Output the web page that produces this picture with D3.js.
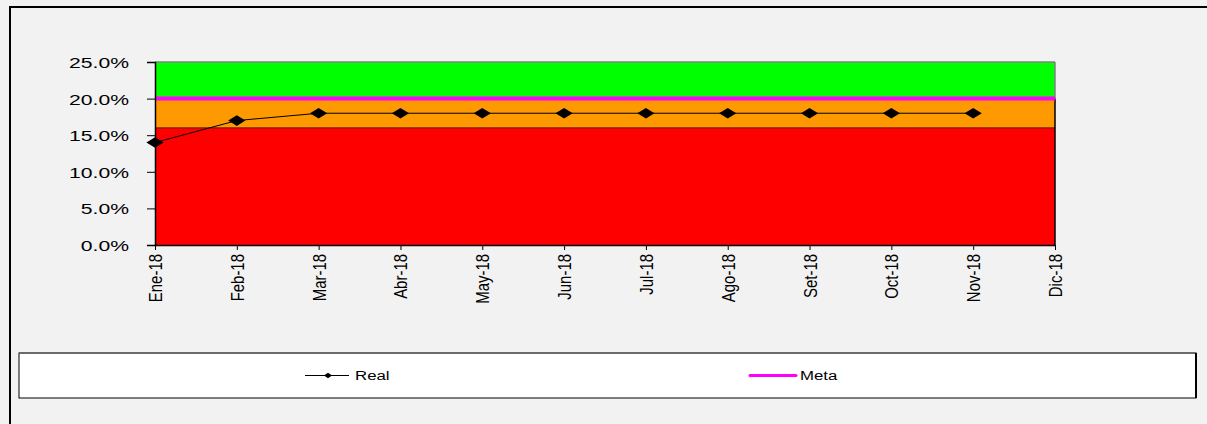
<!DOCTYPE html>
<html>
<head>
<meta charset="utf-8">
<script src="https://cdn.jsdelivr.net/npm/d3@7/dist/d3.min.js"></script>
<style>
  html, body { margin: 0; padding: 0; background: #f2f2f2; }
  svg { display: block; }
</style>
</head>
<body>
<svg id="chart" width="1207" height="424"></svg>
<script>
// Months on the x axis
const months = ["Ene-18","Feb-18","Mar-18","Abr-18","May-18","Jun-18","Jul-18","Ago-18","Set-18","Oct-18","Nov-18","Dic-18"];
// Measured values (fraction), January to November
const realValues = [0.14, 0.17, 0.18, 0.18, 0.18, 0.18, 0.18, 0.18, 0.18, 0.18, 0.18];
// Target line
const metaValue = 0.20;
// Background bands: [from, to]
const bandBounds = [[0, 0.16], [0.16, 0.20], [0.20, 0.25]];
const bandColors = ["#ff0000", "#ff9900", "#00ff00"];
// Y axis ticks
const yTicks = [0, 0.05, 0.10, 0.15, 0.20, 0.25];

const svg = d3.select("#chart");

// Stretch or condense text along its baseline, as in the spreadsheet rendering
function widen(sel, factor) {
  sel.each(function () {
    const len = this.getComputedTextLength();
    d3.select(this).attr("textLength", len * factor).attr("lengthAdjust", "spacingAndGlyphs");
  });
}

// Outer chart frame
svg.append("rect").attr("x", 10).attr("y", 7).attr("width", 1220).attr("height", 440)
  .attr("fill", "#f2f2f2").attr("stroke", "#000").attr("stroke-width", 2);

const plotLeft = 155, plotRight = 1055, plotTop = 62, plotBottom = 245;

const x = d3.scalePoint().domain(months).range([plotLeft, plotRight]);
const y = d3.scaleLinear().domain([0, 0.25]).range([plotBottom, plotTop]);

// Bands
svg.append("g").selectAll("rect").data(bandBounds).join("rect")
  .attr("x", plotLeft).attr("width", plotRight - plotLeft)
  .attr("y", d => y(d[1])).attr("height", d => y(d[0]) - y(d[1]))
  .attr("fill", (d, i) => bandColors[i]);

// Band borders
svg.append("line").attr("x1", plotLeft).attr("x2", plotRight).attr("y1", y(0.16)).attr("y2", y(0.16))
  .attr("stroke", "#7a1a00").attr("stroke-width", 1.2);
svg.append("line").attr("x1", plotLeft).attr("x2", plotRight).attr("y1", y(0.25)).attr("y2", y(0.25))
  .attr("stroke", "#808080").attr("stroke-width", 1.5);
svg.append("line").attr("x1", plotRight).attr("x2", plotRight).attr("y1", y(0.25)).attr("y2", y(0.20))
  .attr("stroke", "#808080").attr("stroke-width", 1.5);
svg.append("line").attr("x1", plotRight).attr("x2", plotRight).attr("y1", y(0.20)).attr("y2", y(0))
  .attr("stroke", "#000").attr("stroke-width", 1.5);

// Meta line
svg.append("line").attr("x1", plotLeft).attr("x2", plotRight).attr("y1", y(metaValue)).attr("y2", y(metaValue))
  .attr("stroke", "#ff00ff").attr("stroke-width", 4);

// Y axis
const yAxis = svg.append("g").attr("transform", `translate(${plotLeft},0)`)
  .call(d3.axisLeft(y).tickValues(yTicks).tickFormat(d3.format(".1%")).tickSize(8).tickPadding(18));
yAxis.select(".domain").attr("stroke", "#000").attr("stroke-width", 1.5);
yAxis.selectAll(".tick line").attr("stroke", "#000");
yAxis.selectAll("text").attr("font-family", "Liberation Sans, Arial, sans-serif")
  .attr("font-size", 15).attr("fill", "#000").attr("dy", "0.36em");
widen(yAxis.selectAll("text"), 1.41);

// X axis, month labels rotated and condensed
const xAxis = svg.append("g").attr("transform", `translate(0,${plotBottom})`)
  .call(d3.axisBottom(x).tickSize(5).tickSizeOuter(0));
xAxis.select(".domain").attr("stroke", "#000").attr("stroke-width", 1.5);
xAxis.selectAll(".tick line").attr("stroke", "#000");
xAxis.selectAll("text")
  .attr("font-family", "Liberation Sans, Arial, sans-serif")
  .attr("font-size", 18).attr("fill", "#000")
  .attr("transform", "rotate(-90)")
  .attr("text-anchor", "end")
  .attr("dx", "-9").attr("dy", "0.36em").attr("x", 0).attr("y", 0);
widen(xAxis.selectAll("text"), 0.83);

// Real series
const line = d3.line().x((d, i) => x(months[i])).y(d => y(d));
svg.append("path").datum(realValues).attr("d", line)
  .attr("fill", "none").attr("stroke", "#000").attr("stroke-width", 1);
const diamond = d3.symbol().type(d3.symbolDiamond2).size(90);
svg.append("g").selectAll("path").data(realValues).join("path")
  .attr("d", diamond)
  .attr("transform", (d, i) => `translate(${x(months[i])},${y(d)}) scale(1.45,0.9)`)
  .attr("fill", "#000");

// Legend
const lg = svg.append("g");
lg.append("rect").attr("x", 19).attr("y", 353).attr("width", 1177).attr("height", 45)
  .attr("fill", "#fff").attr("stroke", "#000").attr("stroke-width", 1);
lg.append("line").attr("x1", 19).attr("x2", 1196).attr("y1", 353).attr("y2", 353)
  .attr("stroke", "#666").attr("stroke-width", 1.5);
lg.append("line").attr("x1", 1196).attr("x2", 1196).attr("y1", 353).attr("y2", 398)
  .attr("stroke", "#000").attr("stroke-width", 2);

lg.append("line").attr("x1", 305).attr("x2", 349).attr("y1", 375.5).attr("y2", 375.5)
  .attr("stroke", "#000").attr("stroke-width", 1);
lg.append("path").attr("d", d3.symbol().type(d3.symbolDiamond2).size(30))
  .attr("transform", "translate(328,375.5) scale(1.2,0.8)").attr("fill", "#000");
const realLabel = lg.append("text").attr("x", 355).attr("y", 380).text("Real")
  .attr("font-family", "Liberation Sans, Arial, sans-serif").attr("font-size", 12).attr("fill", "#000");

lg.append("line").attr("x1", 750).attr("x2", 796).attr("y1", 375.5).attr("y2", 375.5)
  .attr("stroke", "#ff00ff").attr("stroke-width", 3).attr("stroke-linecap", "round");
const metaLabel = lg.append("text").attr("x", 800).attr("y", 380).text("Meta")
  .attr("font-family", "Liberation Sans, Arial, sans-serif").attr("font-size", 12).attr("fill", "#000");
widen(realLabel, 1.4);
widen(metaLabel, 1.4);
</script>
</body>
</html>
